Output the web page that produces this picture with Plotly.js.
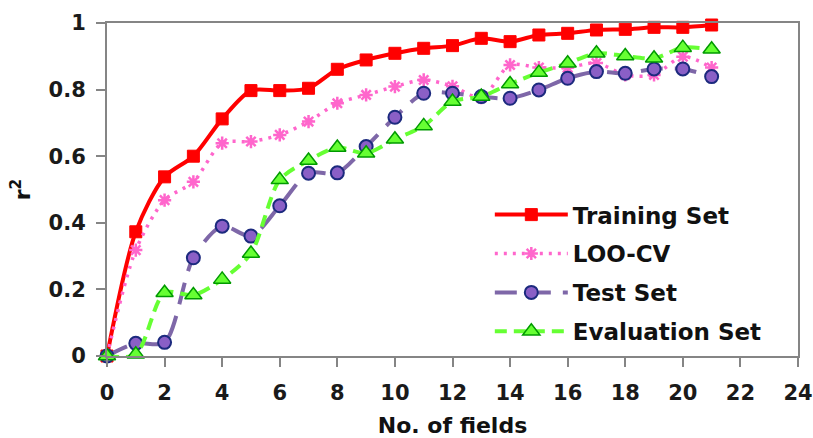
<!DOCTYPE html>
<html>
<head>
<meta charset="utf-8">
<script src="https://cdn.plot.ly/plotly-3.0.1.min.js"></script>
<style>html,body{margin:0;padding:0;background:#fff;}#chart{width:813px;height:438px;}</style>
</head>
<body>
<div id="chart"></div>
<script>
const fields = [0,1,2,3,4,5,6,7,8,9,10,11,12,13,14,15,16,17,18,19,20,21];
const trainingSet = [0,0.373,0.538,0.600,0.712,0.797,0.797,0.804,0.861,0.889,0.909,0.924,0.932,0.954,0.944,0.964,0.969,0.979,0.981,0.987,0.987,0.994];
const looCV = [0,0.318,0.468,0.523,0.639,0.644,0.664,0.704,0.759,0.784,0.809,0.829,0.810,0.776,0.874,0.866,0.866,0.880,0.844,0.844,0.899,0.866];
const testSet = [0,0.038,0.041,0.295,0.390,0.360,0.451,0.549,0.550,0.629,0.717,0.789,0.789,0.779,0.774,0.799,0.834,0.854,0.849,0.862,0.862,0.839];
const evalSet = [0,0.005,0.190,0.183,0.230,0.308,0.529,0.587,0.626,0.609,0.651,0.691,0.764,0.779,0.817,0.851,0.879,0.909,0.901,0.894,0.926,0.921];
const xTicks = [0,2,4,6,8,10,12,14,16,18,20,22,24];
const yTicks = [0,0.2,0.4,0.6,0.8,1];
const yTickText = ['0','0.2','0.4','0.6','0.8','1'];

const FONT = 'DejaVu Sans, Liberation Sans, Arial, sans-serif';

const traces = [
  {x: fields, y: trainingSet, name: 'Training Set', type: 'scatter', mode: 'lines+markers', cliponaxis: false,
   legendgroup: 'a',
   line: {color: '#FF0000', width: 4, shape: 'spline', smoothing: 0.8},
   marker: {symbol: 'square', size: 12, color: '#FF0000', line: {color: '#FF0000', width: 1}}},
  {x: fields, y: looCV, name: 'LOO-CV', type: 'scatter', mode: 'lines+markers', cliponaxis: false,
   legendgroup: 'b',
   line: {color: '#FF66CC', width: 3.5, dash: '3px,6px', shape: 'spline', smoothing: 0.8},
   marker: {symbol: 'asterisk-open', size: 11, color: '#FF66CC', line: {color: '#FF66CC', width: 2.5}}},
  {x: fields, y: testSet, name: 'Test Set', type: 'scatter', mode: 'lines+markers', cliponaxis: false,
   legendgroup: 'c',
   line: {color: '#7E67A8', width: 4, dash: '22px,12px', shape: 'spline', smoothing: 0.8},
   marker: {symbol: 'circle', size: 13, color: '#8A5FC6', line: {color: '#1C2A7E', width: 2}}},
  {x: fields, y: evalSet, name: 'Evaluation Set', type: 'scatter', mode: 'lines+markers', cliponaxis: false,
   legendgroup: 'd',
   line: {color: '#66FF33', width: 4, dash: '12px,7px', shape: 'spline', smoothing: 0.8},
   marker: {symbol: 'triangle-up', size: 15, color: '#66FF33', line: {color: '#009A00', width: 1.5}}}
];

const layout = {
  width: 813, height: 438,
  margin: {l: 107, r: 15, t: 23, b: 82},
  paper_bgcolor: '#FFFFFF', plot_bgcolor: '#FFFFFF',
  font: {family: FONT, color: '#1A1A1A'},
  showlegend: true,
  legend: {x: 0.554, y: 0.489, xanchor: 'left', yanchor: 'top', traceorder: 'grouped', tracegroupgap: 6,
           bgcolor: 'rgba(255,255,255,0)', borderwidth: 0, itemwidth: 73,
           font: {family: FONT, size: 23, color: '#111111', weight: 'bold'}},
  xaxis: {range: [0, 24], tickmode: 'array', tickvals: xTicks, ticktext: xTicks.map(String),
          showgrid: false, zeroline: false, showline: true, linecolor: '#858585', linewidth: 2, mirror: true,
          ticks: 'outside', ticklen: 9, tickwidth: 2, tickcolor: '#858585', ticklabelstandoff: 8,
          tickfont: {family: FONT, size: 21, color: '#1A1A1A', weight: 'bold'},
          title: {text: 'No. of fields', standoff: 20, font: {family: FONT, size: 22, color: '#111111', weight: 'bold'}}},
  yaxis: {range: [0, 1], tickmode: 'array', tickvals: yTicks, ticktext: yTickText,
          showgrid: false, zeroline: false, showline: true, linecolor: '#858585', linewidth: 2, mirror: true,
          ticks: 'outside', ticklen: 9, tickwidth: 2, tickcolor: '#858585', ticklabelstandoff: 6,
          tickfont: {family: FONT, size: 21, color: '#1A1A1A', weight: 'bold'},
          title: {text: 'r<sup>2</sup>', standoff: 12, font: {family: FONT, size: 22, color: '#111111', weight: 'bold'}}}
};

Plotly.newPlot('chart', traces, layout, {displayModeBar: false, staticPlot: true});
</script>
</body>
</html>
